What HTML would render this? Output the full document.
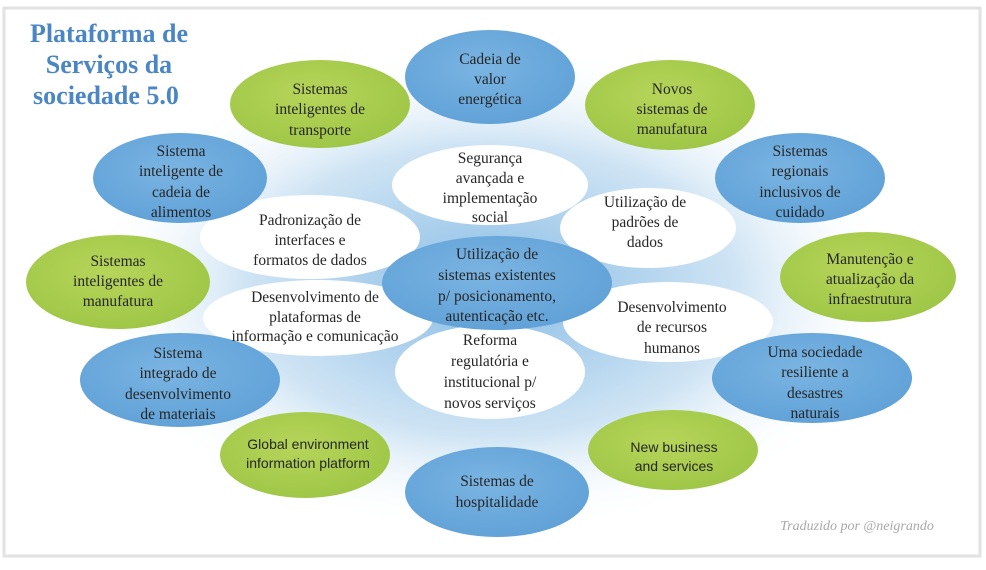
<!DOCTYPE html>
<html><head><meta charset="utf-8"><style>
html,body{margin:0;padding:0;background:#fff;width:986px;height:570px;overflow:hidden}
svg{display:block}
.t{font-family:"Liberation Serif",serif;font-size:15.5px;fill:#262626;text-anchor:middle}
.s{font-family:"Liberation Sans",sans-serif;font-size:14px;fill:#262626;text-anchor:middle}
</style></head><body>
<svg width="986" height="570" viewBox="0 0 986 570" xmlns="http://www.w3.org/2000/svg">
<defs>
<radialGradient id="bg" cx="0.5" cy="0.5" r="0.5">
<stop offset="0" stop-color="#88bce5"/>
<stop offset="0.6" stop-color="#cfe4f4"/>
<stop offset="1" stop-color="#ffffff" stop-opacity="0"/>
</radialGradient>
<radialGradient id="bl" cx="0.45" cy="0.4" r="0.7">
<stop offset="0" stop-color="#7ab4e2"/><stop offset="1" stop-color="#5d9fd6"/>
</radialGradient>
<radialGradient id="gr" cx="0.45" cy="0.4" r="0.7">
<stop offset="0" stop-color="#b6d55a"/><stop offset="1" stop-color="#9cc444"/>
</radialGradient>
</defs>
<rect x="0" y="0" width="986" height="570" fill="#fff"/>
<rect x="4" y="8" width="976" height="548" fill="#fff" stroke="#e2e2e2" stroke-width="3"/>
<ellipse cx="492" cy="290" rx="410" ry="245" fill="url(#bg)"/>
<g font-family="Liberation Serif,serif" font-weight="bold" font-size="26" fill="#4a86c5" text-anchor="middle">
<text x="109" y="42">Plataforma de</text>
<text x="109" y="73">Serviços da</text>
<text x="106" y="104">sociedade 5.0</text>
</g>
<g fill="#fff">
<ellipse cx="310" cy="237" rx="110" ry="42"/>
<ellipse cx="318" cy="318" rx="115" ry="38"/>
<ellipse cx="490" cy="185" rx="98" ry="40"/>
<ellipse cx="648" cy="228" rx="88" ry="40"/>
<ellipse cx="668" cy="322" rx="105" ry="40"/>
<ellipse cx="490" cy="372" rx="95" ry="47"/>
</g>
<ellipse cx="497" cy="283" rx="115" ry="47" fill="url(#bl)"/>
<ellipse cx="490" cy="77" rx="85" ry="47" fill="url(#bl)"/>
<ellipse cx="320" cy="104" rx="90" ry="44" fill="url(#gr)"/>
<ellipse cx="670" cy="105" rx="85" ry="45" fill="url(#gr)"/>
<ellipse cx="180" cy="178" rx="87" ry="45" fill="url(#bl)"/>
<ellipse cx="800" cy="178" rx="85" ry="45" fill="url(#bl)"/>
<ellipse cx="118" cy="282" rx="92" ry="47" fill="url(#gr)"/>
<ellipse cx="868" cy="277" rx="88" ry="45" fill="url(#gr)"/>
<ellipse cx="180" cy="380" rx="100" ry="47" fill="url(#bl)"/>
<ellipse cx="812" cy="378" rx="100" ry="45" fill="url(#bl)"/>
<ellipse cx="305" cy="455" rx="85" ry="43" fill="url(#gr)"/>
<ellipse cx="673" cy="450" rx="85" ry="40" fill="url(#gr)"/>
<ellipse cx="497" cy="492" rx="92" ry="45" fill="url(#bl)"/>
<text class="t" x="490" y="64">Cadeia de</text><text class="t" x="490" y="84">valor</text><text class="t" x="490" y="104">energética</text>
<text class="t" x="320" y="94">Sistemas</text><text class="t" x="320" y="114">inteligentes de</text><text class="t" x="320" y="135">transporte</text>
<text class="t" x="672" y="94">Novos</text><text class="t" x="672" y="114">sistemas de</text><text class="t" x="672" y="134">manufatura</text>
<text class="t" x="181" y="156">Sistema</text><text class="t" x="181" y="176">inteligente de</text><text class="t" x="181" y="197">cadeia de</text><text class="t" x="181" y="217">alimentos</text>
<text class="t" x="800" y="156">Sistemas</text><text class="t" x="800" y="176">regionais</text><text class="t" x="800" y="197">inclusivos de</text><text class="t" x="800" y="217">cuidado</text>
<text class="t" x="118" y="266">Sistemas</text><text class="t" x="118" y="286">inteligentes de</text><text class="t" x="118" y="306">manufatura</text>
<text class="t" x="870" y="264">Manutenção e</text><text class="t" x="870" y="284">atualização da</text><text class="t" x="870" y="304">infraestrutura</text>
<text class="t" x="178" y="358">Sistema</text><text class="t" x="178" y="378">integrado de</text><text class="t" x="178" y="399">desenvolvimento</text><text class="t" x="178" y="419">de materiais</text>
<text class="t" x="815" y="357">Uma sociedade</text><text class="t" x="815" y="377">resiliente a</text><text class="t" x="815" y="398">desastres</text><text class="t" x="815" y="418">naturais</text>
<text class="s" x="308" y="449">Global environment</text><text class="s" x="308" y="468">information platform</text>
<text class="s" x="674" y="452">New business</text><text class="s" x="674" y="471">and services</text>
<text class="t" x="497" y="486">Sistemas de</text><text class="t" x="497" y="507">hospitalidade</text>
<text class="t" x="490" y="163">Segurança</text><text class="t" x="490" y="183">avançada e</text><text class="t" x="490" y="203">implementação</text><text class="t" x="490" y="222">social</text>
<text class="t" x="645" y="207">Utilização de</text><text class="t" x="645" y="227">padrões de</text><text class="t" x="645" y="247">dados</text>
<text class="t" x="310" y="225">Padronização de</text><text class="t" x="310" y="245">interfaces e</text><text class="t" x="310" y="265">formatos de dados</text>
<text class="t" x="497" y="259">Utilização de</text><text class="t" x="497" y="280">sistemas existentes</text><text class="t" x="497" y="301">p/ posicionamento,</text><text class="t" x="497" y="321">autenticação etc.</text>
<text class="t" x="315" y="302">Desenvolvimento de</text><text class="t" x="315" y="322">plataformas de</text><text class="t" x="315" y="341" font-size="13.5">informação e comunicação</text>
<text class="t" x="672" y="312">Desenvolvimento</text><text class="t" x="672" y="332">de recursos</text><text class="t" x="672" y="353">humanos</text>
<text class="t" x="490" y="345">Reforma</text><text class="t" x="490" y="366">regulatória e</text><text class="t" x="490" y="387">institucional p/</text><text class="t" x="490" y="408">novos serviços</text>
<text x="857" y="530" font-family="Liberation Serif,serif" font-style="italic" font-size="14" fill="#a8a8a8" text-anchor="middle">Traduzido por @neigrando</text>
</svg>
</body></html>
